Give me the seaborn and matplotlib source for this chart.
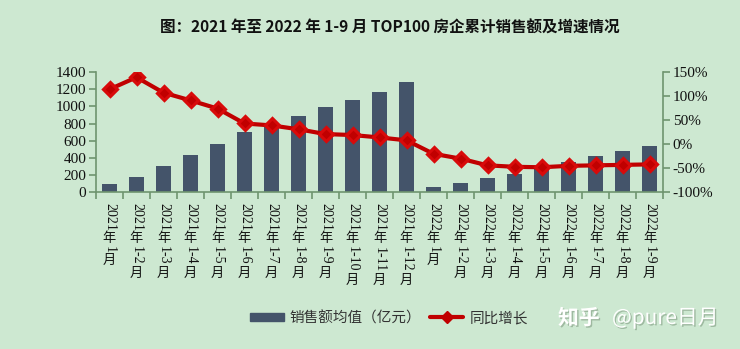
import re
import numpy as np
import pandas as pd
import matplotlib
matplotlib.use("Agg")
import matplotlib.pyplot as plt
import matplotlib.patheffects as pe
from matplotlib.lines import Line2D
from matplotlib.patches import Patch
import seaborn as sns

# ---- data ----
months = ["2021年1月", "2021年1-2月", "2021年1-3月", "2021年1-4月", "2021年1-5月",
          "2021年1-6月", "2021年1-7月", "2021年1-8月", "2021年1-9月", "2021年1-10月",
          "2021年1-11月", "2021年1-12月", "2022年1月", "2022年1-2月", "2022年1-3月",
          "2022年1-4月", "2022年1-5月", "2022年1-6月", "2022年1-7月", "2022年1-8月",
          "2022年1-9月"]
sales = [98, 182, 310, 432, 560, 698, 762, 890, 992, 1073, 1162, 1279,
         65, 108, 170, 213, 280, 357, 424, 486, 544]
yoy = [114, 139, 107, 91, 74, 43, 39, 31, 21, 19, 14, 8,
       -20, -30, -44, -47, -48, -45, -44, -43, -42]
left_ticks = [0, 200, 400, 600, 800, 1000, 1200, 1400]
right_ticks = [-100, -50, 0, 50, 100, 150]
title = "图：2021 年至 2022 年 1-9 月 TOP100 房企累计销售额及增速情况"
bar_label = "销售额均值（亿元）"
line_label = "同比增长"
wm_a = "知乎"
wm_b = "@pure日月"

BG = "#cde8d1"
BAR = "#44546a"
LINE = "#c00000"
SPINE = "#6f946f"
W, H = 740, 349

sns.set_theme(style="white")
plt.rcParams["font.family"] = ["Liberation Serif", "Noto Sans CJK SC", "DejaVu Sans"]
CJK = ["Noto Sans CJK SC", "DejaVu Sans"]

fig = plt.figure(figsize=(W / 100, H / 100), dpi=100, facecolor=BG)
ax = fig.add_axes([96 / W, 1 - 192.3 / H, (663 - 96) / W, (192.3 - 72) / H])
ax.set_facecolor(BG)

df = pd.DataFrame({"month": months, "sales": sales, "yoy": yoy})
sns.barplot(data=df, x="month", y="sales", color=BAR, saturation=1, width=0.57,
            linewidth=0, ax=ax)
ax.set_ylim(0, 1400)
ax.set_yticks(left_ticks)
ax.set_xlim(-0.5, len(months) - 0.5)
ax.set_xlabel("")
ax.set_ylabel("")

ax2 = ax.twinx()
sns.pointplot(data=df, x="month", y="yoy", color=LINE, markers="D", errorbar=None,
              markersize=7.5, linewidth=3.0, markeredgecolor="#d80a0a", ax=ax2)
ax2.set_ylim(-100, 150)
ax2.set_yticks(right_ticks)
ax2.set_yticklabels([f"{v}%" for v in right_ticks])
ax2.set_xlim(-0.5, len(months) - 0.5)
ax2.set_ylabel("")
ax2.set_xlabel("")

for a in (ax, ax2):
    for s in a.spines.values():
        s.set_visible(False)
ax.spines["left"].set_visible(True)
ax.spines["bottom"].set_visible(True)
ax2.spines["right"].set_visible(True)
for s in (ax.spines["left"], ax.spines["bottom"], ax2.spines["right"]):
    s.set_color(SPINE)
    s.set_linewidth(1.2)

ax.tick_params(axis="y", direction="out", length=5, color=SPINE, width=1.2,
               labelsize=11, labelcolor="#111111", pad=2, left=True)
ax2.tick_params(axis="y", direction="out", length=5, color=SPINE, width=1.2,
                labelsize=11, labelcolor="#111111", pad=2, right=True)
ax.set_xticks(range(len(months)))
ax.set_xticklabels([""] * len(months))
ax.tick_params(axis="x", which="major", length=0)
ax.set_xticks(np.arange(-0.5, len(months)), minor=True)
ax.tick_params(axis="x", which="minor", direction="out", length=5, color=SPINE,
               width=1.2, bottom=True)
ax2.tick_params(axis="x", which="both", length=0, labelbottom=False)

# vertical tick labels: digits rotated, CJK upright (stacked top to bottom)
fs_d = 10
fs_c = 9.5
em_d = fs_d * 100 / 72
em_c = fs_c * 100 / 72
adv = {"-": 0.40}
for i, lab in enumerate(months):
    xpx = ax.transData.transform((i, 0))[0]
    y = H - 203.0
    for seg in re.findall(r"[0-9\-]+|.", lab):
        if re.match(r"[0-9\-]+", seg):
            L = sum(adv.get(c, 0.5) for c in seg) * em_d
            fig.text(xpx / W, (y - L / 2) / H, seg, rotation=-90, ha="center",
                     va="center", fontsize=fs_d, family=["Liberation Serif"],
                     color="#111111")
            y -= L + 1
        else:
            L = em_c * 1.0
            fig.text(xpx / W, (y - L / 2) / H, seg, ha="center", va="center",
                     fontsize=fs_c, family=CJK, color="#111111")
            y -= L + 1

fig.text(390 / W, 1 - 28 / H, title, ha="center", va="center", fontsize=11.2,
         fontweight="bold", family=CJK, color="#111111")

handles = [Patch(facecolor=BAR, edgecolor=BAR, label=bar_label),
           Line2D([], [], color=LINE, marker="D", lw=3, markersize=6, label=line_label)]
fig.legend(handles=handles, loc="center", bbox_to_anchor=(389 / W, 1 - 318 / H), ncol=2,
           frameon=False, prop={"family": CJK, "size": 10.5}, handlelength=2.3,
           handleheight=0.55, columnspacing=0.6, handletextpad=0.4, labelcolor="#333333",
           borderpad=0, borderaxespad=0)

shadow = [pe.withSimplePatchShadow(offset=(1, -1), shadow_rgbFace="#7f9a80", alpha=0.6)]
fig.text(558 / W, 1 - 318 / H, wm_a, ha="left", va="center", fontsize=15,
         fontweight="bold", family=CJK, color="white", path_effects=shadow)
fig.text(612 / W, 1 - 318 / H, wm_b, ha="left", va="center", fontsize=15,
         family=CJK, color="white", path_effects=shadow)

fig.savefig("out.png", dpi=100, facecolor=BG)
